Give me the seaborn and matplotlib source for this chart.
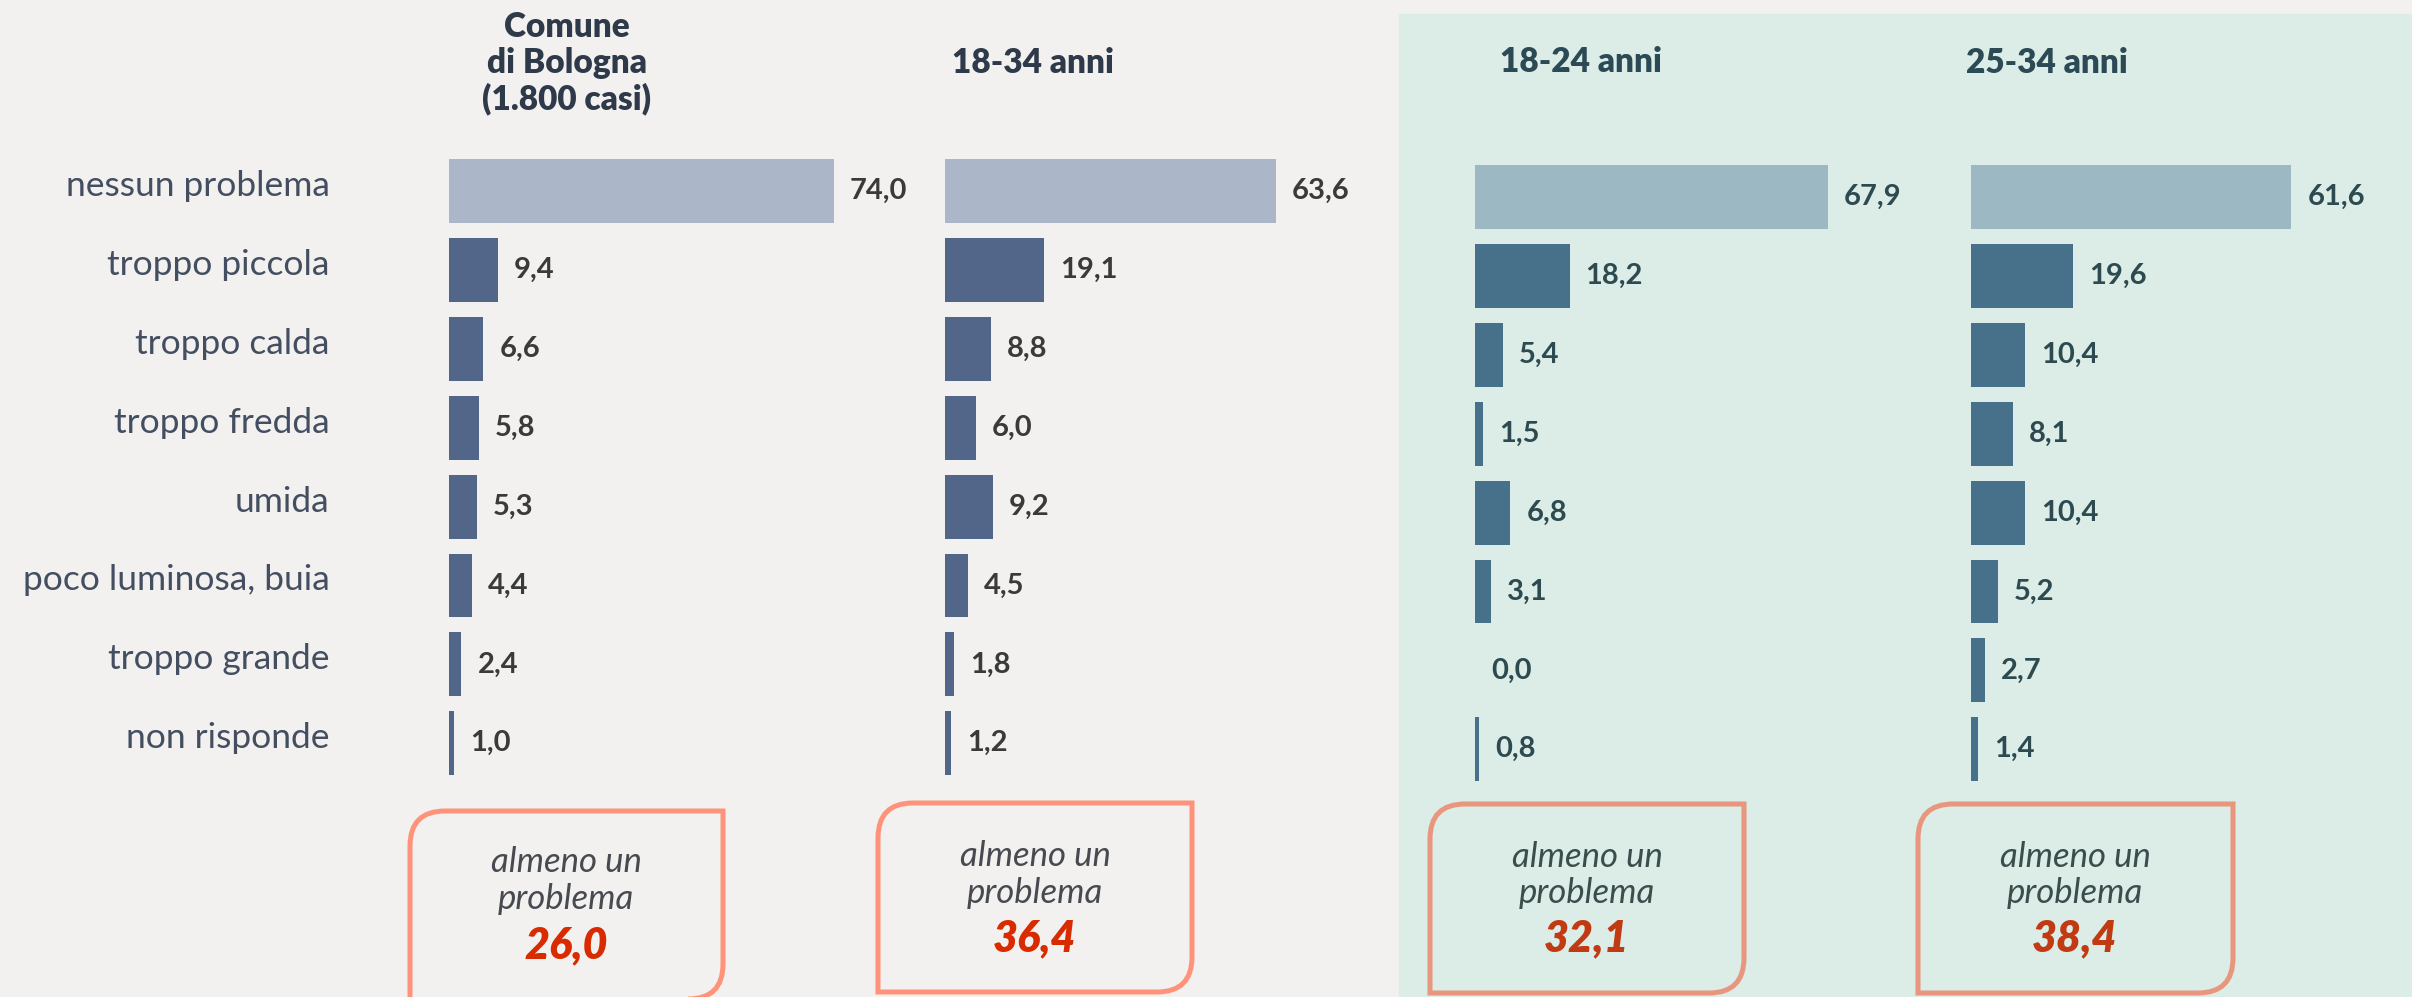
import matplotlib
matplotlib.use("Agg")
import matplotlib.pyplot as plt
import matplotlib.transforms as mtransforms
from matplotlib.path import Path
from matplotlib.patches import PathPatch, Rectangle
import seaborn as sns

categories = ["nessun problema", "troppo piccola", "troppo calda", "troppo fredda",
              "umida", "poco luminosa, buia", "troppo grande", "non risponde"]
comune = [74.0, 9.4, 6.6, 5.8, 5.3, 4.4, 2.4, 1.0]
anni_18_34 = [63.6, 19.1, 8.8, 6.0, 9.2, 4.5, 1.8, 1.2]
anni_18_24 = [67.9, 18.2, 5.4, 1.5, 6.8, 3.1, 0.0, 0.8]
anni_25_34 = [61.6, 19.6, 10.4, 8.1, 10.4, 5.2, 2.7, 1.4]
headers = ["Comune\ndi Bologna\n(1.800 casi)", "18-34 anni", "18-24 anni", "25-34 anni"]
almeno_un_problema = [26.0, 36.4, 32.1, 38.4]

W, H = 2412, 997
sns.set_theme(style="white")
plt.rcParams["font.family"] = ["Lato", "DejaVu Sans"]

fig = plt.figure(figsize=(W / 100, H / 100), dpi=100)
fig.patch.set_facecolor("#F2F1EF")


def px_axes(x, y, w, h):
    return fig.add_axes([x / W, 1 - (y + h) / H, w / W, h / H])


def fmt(v):
    return f"{v:.1f}".replace(".", ",")


# background layer in pixel coordinates
bg = px_axes(0, 0, W, H)
bg.set_xlim(0, W)
bg.set_ylim(H, 0)
bg.axis("off")
bg.set_zorder(0)
bg.add_patch(Rectangle((1399, 14), W - 1399, H - 14, color="#DCECE6", zorder=0))

panels = [
    dict(vals=comune, x=449, yc=191, light="#ABB6C8", dark="#52668A", val="#3A3A3A",
         head="#2E3A4A", hx=567, hy=63, box=(410, 811, 723, 999), bx=566, by=(862, 899, 945),
         edge="#FF927A", txt="#474A50", num="#D92B00"),
    dict(vals=anni_18_34, x=945, yc=191, light="#ABB6C8", dark="#52668A", val="#3A3A3A",
         head="#2E3A4A", hx=1033, hy=63, box=(878, 803, 1192, 992), bx=1035, by=(856, 893, 938),
         edge="#FF927A", txt="#474A50", num="#D92B00"),
    dict(vals=anni_18_24, x=1475, yc=197, light="#9BB8C3", dark="#47718B", val="#2C4A4F",
         head="#2C4A55", hx=1581, hy=62, box=(1430, 804, 1744, 993), bx=1587, by=(857, 893, 938),
         edge="#E8967E", txt="#3A4E4E", num="#C23A12"),
    dict(vals=anni_25_34, x=1971, yc=197, light="#9BB8C3", dark="#47718B", val="#2C4A4F",
         head="#2C4A55", hx=2047, hy=63, box=(1918, 804, 2233, 993), bx=2075, by=(857, 893, 938),
         edge="#E8967E", txt="#3A4E4E", num="#C23A12"),
]

row = 78.9
scale = 5.2  # pixels per percentage point
axw = 430


def box_path(x0, y0, x1, y1, r):
    verts = [(x0, y0 + r), (x0, y0), (x0 + r, y0), (x1, y0), (x1, y1 - r),
             (x1, y1), (x1 - r, y1), (x0, y1), (x0, y0 + r)]
    codes = [Path.MOVETO, Path.CURVE3, Path.CURVE3, Path.LINETO, Path.LINETO,
             Path.CURVE3, Path.CURVE3, Path.LINETO, Path.CLOSEPOLY]
    return Path(verts, codes)


for i, p in enumerate(panels):
    top = p["yc"] - row / 2
    ax = px_axes(p["x"], top, axw, row * 8)
    ax.set_zorder(2)
    ax.patch.set_alpha(0)
    colors = [p["light"]] + [p["dark"]] * 7
    sns.barplot(x=p["vals"], y=categories, hue=categories, palette=colors, legend=False,
                orient="h", width=0.81, saturation=1, linewidth=0, ax=ax)
    ax.set_xlim(0, axw / scale)
    ax.set_ylim(7.5, -0.5)
    for c, v in zip(ax.containers, p["vals"]):
        ax.bar_label(c, labels=[fmt(v)], padding=11.5, fontsize=21, fontweight="bold",
                     color=p["val"])
    sns.despine(ax=ax, left=True, bottom=True)
    ax.set_xticks([])
    ax.set_xlabel("")
    ax.set_ylabel("")
    if i == 0:
        ax.tick_params(axis="y", length=0, pad=86, labelsize=25.5, labelcolor="#434E60")
        shift = mtransforms.ScaledTranslation(0, 8 / 100, fig.dpi_scale_trans)
        for t in ax.get_yticklabels():
            t.set_transform(t.get_transform() + shift)
    else:
        ax.set_yticks([])

    # header
    bg.text(p["hx"], p["hy"], headers[i], ha="center", va="center",
            fontsize=24, fontweight="heavy", color=p["head"], linespacing=1.15)

    # summary box
    x0, y0, x1, y1 = p["box"]
    bg.add_patch(PathPatch(box_path(x0, y0, x1, y1, 35), facecolor="none",
                           edgecolor=p["edge"], lw=3.6, zorder=3))
    bg.text(p["bx"], p["by"][0], "almeno un", ha="center", va="center", fontsize=25,
            style="italic", color=p["txt"])
    bg.text(p["bx"], p["by"][1], "problema", ha="center", va="center", fontsize=25,
            style="italic", color=p["txt"])
    bg.text(p["bx"], p["by"][2], fmt(almeno_un_problema[i]), ha="center", va="center",
            fontsize=31, style="italic", fontweight="heavy", color=p["num"])

fig.savefig("out.png", dpi=100, facecolor=fig.get_facecolor())
